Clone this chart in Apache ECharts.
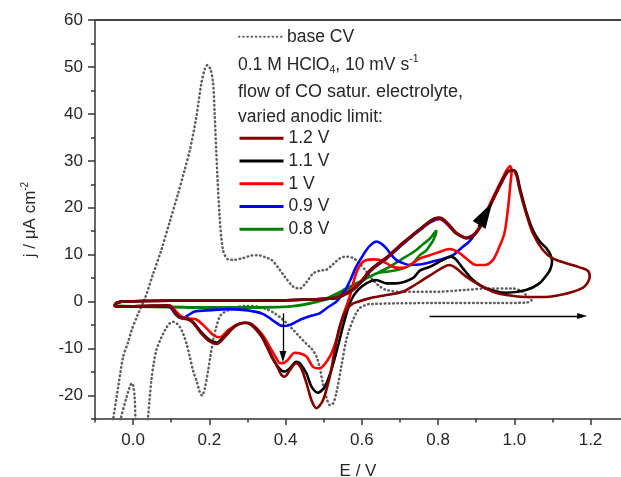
<!DOCTYPE html>
<html>
<head>
<meta charset="utf-8">
<script src="https://cdn.jsdelivr.net/npm/echarts@6/dist/echarts.min.js"></script>
<style>
  html, body { margin: 0; padding: 0; background: #ffffff; }
  #chart { width: 621px; height: 477px; }
</style>
</head>
<body>
<div id="chart"></div>
<script>
// Axis ticks (E in V, j in µA cm^-2)
const xMajorTicks = [0, 0.2, 0.4, 0.6, 0.8, 1.0, 1.2];
const xMinorTicks = [-0.1, 0.1, 0.3, 0.5, 0.7, 0.9, 1.1];
const yMajorTicks = [-20, -10, 0, 10, 20, 30, 40, 50, 60];
const yMinorTicks = [-25, -15, -5, 5, 15, 25, 35, 45, 55];

// Base CV (dotted), anodic sweep then cathodic sweep; points below -25 run off the plot
const baseAnodic = [
  [-0.06, -30], [-0.052, -24.9], [-0.039, -18.1], [-0.026, -11.7], [-0.013, -8.6], [-0.004, -6.1],
  [0.012, -2.8], [0.031, 0.7], [0.052, 5.8], [0.074, 11], [0.096, 17], [0.118, 23], [0.135, 28],
  [0.149, 32.3], [0.166, 39.4], [0.179, 46.5], [0.188, 49.5], [0.195, 50.4], [0.203, 49.5],
  [0.21, 46.5], [0.214, 40], [0.218, 32.3], [0.227, 18.1], [0.236, 11], [0.249, 9.0], [0.265, 8.9],
  [0.284, 9.2], [0.31, 9.8], [0.328, 9.9], [0.345, 9.5], [0.363, 8.9], [0.38, 7.3], [0.398, 5.3],
  [0.42, 3.2], [0.437, 2.8], [0.455, 4.2], [0.472, 6.0], [0.49, 6.6], [0.507, 6.8], [0.525, 8.0],
  [0.542, 9.2], [0.559, 9.6], [0.577, 9.3], [0.594, 8.2], [0.611, 6.5], [0.629, 4.6], [0.646, 3.3],
  [0.664, 2.5], [0.699, 2.1], [0.787, 2.1], [0.874, 2.5], [0.927, 2.8], [0.996, 2.8], [1.02, 2.2],
  [1.031, 1.4], [1.045, 0.3]
];
const baseCathodic = [
  [1.031, -0.2], [0.95, -0.3], [0.8, -0.3], [0.62, -0.5], [0.605, -0.9], [0.594, -1.4], [0.585, -2.5],
  [0.577, -3.9], [0.568, -5.8], [0.559, -8.2], [0.546, -13.9], [0.533, -19.5], [0.524, -21.8],
  [0.516, -22.0], [0.507, -20.3], [0.498, -17.4], [0.489, -13.9], [0.481, -11.7], [0.468, -10.0],
  [0.455, -9.0], [0.437, -7.5], [0.42, -6.0], [0.402, -4.5], [0.385, -3.3], [0.37, -2.4], [0.35, -1.6],
  [0.33, -1.1], [0.297, -0.9], [0.275, -1.1], [0.262, -1.4], [0.245, -2.0], [0.235, -2.5],
  [0.227, -3.2], [0.218, -5.5], [0.21, -8.2], [0.203, -11.5], [0.197, -14.6], [0.188, -18.5],
  [0.181, -20.0], [0.175, -19.3], [0.168, -17.3], [0.157, -14.6], [0.148, -11.5], [0.14, -8.9],
  [0.131, -6.8], [0.122, -5.3], [0.112, -4.5], [0.105, -4.3], [0.095, -4.7], [0.087, -5.6],
  [0.079, -6.8], [0.07, -8.4], [0.061, -10.3], [0.054, -13.2], [0.048, -16.7], [0.043, -21],
  [0.039, -24.9], [0.036, -28],
  [0.008, -28], [0.006, -24.9], [0.004, -20.3], [0.0, -17.8], [-0.004, -17.4], [-0.009, -18.2],
  [-0.017, -20.3], [-0.032, -24.9], [-0.035, -28]
];

// CO saturated electrolyte, anodic limit 1.2 V
const cv12Anodic = [
  [-0.05, -1.0], [-0.045, -0.3], [-0.03, 0.0], [0.0, 0.1], [0.1, 0.2], [0.2, 0.2], [0.3, 0.2],
  [0.4, 0.3], [0.48, 0.5], [0.533, 0.8], [0.555, 1.5], [0.577, 2.5], [0.6, 4.3], [0.62, 6.4],
  [0.642, 7.9], [0.664, 9.2], [0.686, 10.8], [0.708, 12.4], [0.73, 13.9], [0.752, 15.3],
  [0.778, 17.0], [0.795, 17.8], [0.804, 17.9], [0.815, 17.5], [0.83, 16.3], [0.845, 14.9],
  [0.857, 14.2], [0.874, 13.5], [0.892, 14.0], [0.905, 15.2], [0.913, 16.3], [0.927, 18.8],
  [0.944, 21.6], [0.966, 25.2], [0.983, 27.6], [0.996, 28.0], [1.005, 27.0], [1.014, 23.8],
  [1.031, 18.8], [1.049, 14.5], [1.075, 11.0], [1.101, 9.2], [1.136, 8.2], [1.171, 7.3],
  [1.193, 6.6], [1.198, 5.3]
];
const cv12Cathodic = [
  [1.184, 3.2], [1.154, 2.1], [1.119, 1.4], [1.084, 1.0], [1.031, 1.0], [0.979, 1.4], [0.944, 2.1],
  [0.909, 3.5], [0.874, 5.3], [0.848, 7.1], [0.83, 7.8], [0.813, 7.3], [0.787, 6.0], [0.752, 4.2],
  [0.73, 3.1], [0.708, 2.1], [0.664, 1.4], [0.62, 0.7], [0.59, 0.0], [0.577, -0.4], [0.559, -1.8],
  [0.542, -5.3], [0.529, -10.3], [0.516, -16.0], [0.498, -21.0], [0.481, -22.7], [0.468, -21.0],
  [0.455, -17.4], [0.441, -14.2], [0.428, -13.1], [0.411, -14.6], [0.398, -16.0], [0.389, -15.6],
  [0.376, -13.5], [0.363, -11.7], [0.35, -9.5], [0.337, -7.5], [0.31, -5.0], [0.293, -4.5],
  [0.267, -5.3], [0.241, -7.5], [0.219, -9.0], [0.201, -8.5], [0.179, -6.8], [0.157, -4.5],
  [0.144, -3.8], [0.131, -3.6], [0.118, -3.2], [0.105, -1.8], [0.096, -0.9], [0.05, -0.9],
  [0.0, -1.0], [-0.048, -1.1]
];

// anodic limit 1.1 V
const cv11Anodic = [
  [-0.05, -1.0], [-0.045, -0.3], [-0.03, 0.0], [0.0, 0.1], [0.1, 0.2], [0.2, 0.2], [0.3, 0.2],
  [0.4, 0.3], [0.48, 0.5], [0.533, 0.8], [0.555, 1.6], [0.577, 2.6], [0.6, 4.4], [0.62, 6.5],
  [0.642, 8.0], [0.664, 9.3], [0.686, 10.9], [0.708, 12.5], [0.73, 14.0], [0.752, 15.4],
  [0.778, 17.1], [0.795, 17.8], [0.804, 17.8], [0.815, 17.4], [0.83, 16.2], [0.845, 14.8],
  [0.857, 14.1], [0.874, 13.5], [0.892, 14.0], [0.905, 15.2], [0.913, 16.3], [0.927, 18.8],
  [0.944, 21.7], [0.966, 25.4], [0.983, 27.7], [0.998, 28.0], [1.006, 27.3], [1.014, 24.5],
  [1.031, 19.3], [1.049, 15.2], [1.066, 12.9], [1.084, 11.4], [1.095, 10.0], [1.099, 8.5]
];
const cv11Cathodic = [
  [1.095, 7.0], [1.088, 6.0], [1.066, 3.9], [1.031, 2.5], [0.979, 1.9], [0.927, 2.8], [0.892, 4.6],
  [0.865, 7.1], [0.848, 8.9], [0.835, 9.6], [0.813, 8.9], [0.778, 7.4], [0.752, 6.6], [0.734, 5.0],
  [0.69, 3.9], [0.664, 3.9], [0.638, 4.6], [0.612, 3.9], [0.59, 2.5], [0.572, 0.3], [0.555, -3.9],
  [0.537, -9.6], [0.52, -14.6], [0.503, -18.1], [0.485, -19.4], [0.468, -18.1], [0.455, -15.3],
  [0.437, -13.1], [0.428, -12.8], [0.411, -14.2], [0.398, -14.9], [0.38, -13.9], [0.358, -10.7],
  [0.337, -7.2], [0.31, -4.8], [0.293, -4.5], [0.267, -5.2], [0.241, -7.3], [0.219, -8.7],
  [0.201, -8.2], [0.179, -6.5], [0.157, -4.3], [0.144, -3.7], [0.131, -3.5], [0.118, -3.1],
  [0.105, -1.7], [0.096, -0.9], [0.05, -0.9], [0.0, -1.0], [-0.048, -1.1]
];

// anodic limit 1.0 V
const cv10Anodic = [
  [-0.05, -1.0], [-0.045, -0.3], [-0.03, 0.0], [0.0, 0.1], [0.1, 0.2], [0.2, 0.2], [0.3, 0.2],
  [0.4, 0.3], [0.48, 0.5], [0.533, 0.9], [0.555, 1.7], [0.577, 2.8], [0.6, 4.6], [0.62, 6.6],
  [0.642, 8.1], [0.664, 9.4], [0.686, 11.0], [0.708, 12.6], [0.73, 14.0], [0.752, 15.4],
  [0.778, 17.0], [0.795, 17.6], [0.804, 17.6], [0.815, 17.2], [0.83, 16.0], [0.845, 14.7],
  [0.857, 14.1], [0.874, 13.6], [0.892, 14.2], [0.905, 15.5], [0.913, 16.6], [0.927, 19.2],
  [0.944, 22.2], [0.966, 25.8], [0.98, 28.0], [0.989, 28.9]
];
const cv10Cathodic = [
  [0.993, 28.0], [0.99, 25.2], [0.983, 19.5], [0.974, 14.5], [0.961, 11.7], [0.944, 8.9],
  [0.922, 7.8], [0.9, 7.8], [0.874, 9.2], [0.852, 10.6], [0.83, 11.2], [0.804, 10.6], [0.778, 9.9],
  [0.752, 9.2], [0.73, 8.0], [0.708, 7.2], [0.686, 7.3], [0.664, 8.2], [0.645, 8.9], [0.629, 9.0],
  [0.603, 8.5], [0.585, 6.0], [0.568, 1.0], [0.55, -3.2], [0.533, -8.2], [0.516, -11.7],
  [0.489, -14.2], [0.472, -13.9], [0.455, -11.7], [0.437, -11.0], [0.424, -10.9], [0.406, -12.4],
  [0.393, -13.1], [0.385, -13.1], [0.376, -12.1], [0.363, -10.3], [0.337, -6.8], [0.302, -4.5],
  [0.275, -4.8], [0.249, -6.1], [0.227, -7.6], [0.21, -7.1], [0.188, -5.3], [0.166, -3.8],
  [0.149, -3.6], [0.127, -3.2], [0.105, -1.4], [0.095, -0.8], [0.05, -0.9], [0.0, -1.0],
  [-0.048, -1.0]
];

// anodic limit 0.9 V
const cv09Anodic = [
  [-0.05, -1.0], [-0.045, -0.4], [-0.03, 0.0], [0.0, 0.1], [0.1, 0.2], [0.2, 0.2], [0.3, 0.2],
  [0.4, 0.3], [0.48, 0.5], [0.533, 0.8], [0.555, 1.5], [0.577, 2.5], [0.6, 4.3], [0.62, 6.3],
  [0.642, 7.8], [0.664, 9.1], [0.686, 10.7], [0.708, 12.3], [0.73, 13.8], [0.752, 15.2],
  [0.778, 16.8], [0.795, 17.5], [0.804, 17.6], [0.815, 17.2], [0.83, 16.0], [0.845, 14.7],
  [0.857, 14.1], [0.874, 13.6], [0.885, 13.9], [0.893, 14.3]
];
const cv09Cathodic = [
  [0.89, 13.6], [0.878, 12.5], [0.865, 11.7], [0.839, 9.9], [0.804, 8.9], [0.769, 8.2],
  [0.752, 7.9], [0.726, 7.8], [0.708, 8.2], [0.69, 8.9], [0.675, 10.2], [0.664, 11.4], [0.65, 12.4],
  [0.638, 12.8], [0.625, 12.2], [0.612, 11.0], [0.598, 9.2], [0.585, 7.4], [0.572, 5.0],
  [0.559, 2.8], [0.546, 1.2], [0.533, 0.0], [0.511, -1.2], [0.489, -2.5], [0.467, -3.0],
  [0.446, -3.6], [0.425, -4.4], [0.41, -5.0], [0.393, -5.2], [0.372, -4.3], [0.355, -3.3],
  [0.337, -2.5], [0.31, -2.0], [0.293, -1.8], [0.249, -1.6], [0.205, -1.8], [0.162, -2.1],
  [0.144, -2.9], [0.129, -3.6], [0.118, -3.2], [0.109, -2.5], [0.1, -1.4], [0.09, -1.0],
  [0.0, -1.0], [-0.048, -1.0]
];

// anodic limit 0.8 V
const cv08Anodic = [
  [-0.05, -0.8], [-0.04, -0.9], [0.0, -1.0], [0.1, -1.1], [0.2, -1.2], [0.3, -1.2], [0.4, -1.1],
  [0.446, -0.7], [0.48, -0.1], [0.507, 0.5], [0.53, 1.3], [0.55, 2.1], [0.572, 3.0], [0.594, 4.0],
  [0.616, 5.1], [0.638, 6.0], [0.655, 6.7], [0.673, 7.4], [0.69, 8.3], [0.708, 9.2], [0.726, 10.1],
  [0.743, 11.0], [0.76, 12.2], [0.778, 13.4], [0.79, 14.6], [0.796, 15.2]
];
const cv08Cathodic = [
  [0.794, 14.4], [0.787, 13.0], [0.778, 11.9], [0.769, 10.9], [0.752, 9.9], [0.734, 8.2],
  [0.712, 7.2], [0.69, 6.7], [0.667, 6.4], [0.647, 6.2], [0.625, 5.5], [0.603, 4.6], [0.581, 3.7],
  [0.559, 2.8], [0.537, 1.8], [0.516, 1.0], [0.494, 0.3], [0.472, -0.2], [0.44, -0.7],
  [0.402, -1.1], [0.3, -1.3], [0.2, -1.3], [0.1, -1.2], [0.0, -1.1], [-0.048, -1.0]
];

// Annotation arrows: [start, end] in (E, j)
const arrowDown = [[0.393, -2.5], [0.393, -11.7]];
const arrowSweep = [[0.778, -3.07], [1.178, -3.07]];
const arrowScan = [[0.905, 16.0], [0.925, 18.75]];

const seriesNames = ['1.2 V', '1.1 V', '1 V', '0.9 V', '0.8 V'];
const seriesColors = ['#800000', '#000000', '#ff0000', '#0000ff', '#008000'];
const seriesPaths = [
  cv12Anodic.concat(cv12Cathodic),
  cv11Anodic.concat(cv11Cathodic),
  cv10Anodic.concat(cv10Cathodic),
  cv09Anodic.concat(cv09Cathodic),
  cv08Anodic.concat(cv08Cathodic)
];

const FONT = '"Liberation Sans", Arial, sans-serif';
const TEXT = '#262626';
const AXIS = '#333333';

const chart = echarts.init(document.getElementById('chart'), null, { renderer: 'canvas' });

function arrowItem(seg, size) {
  return [
    { coord: seg[0], symbol: 'none' },
    { coord: seg[1], symbol: 'triangle', symbolSize: size }
  ];
}

// Draw order: 0.8 V ... 1.2 V so the 1.2 V trace sits on top
const order = [4, 3, 2, 1, 0];
const coSeries = order.map(i => ({
  name: seriesNames[i],
  type: 'line',
  data: seriesPaths[i],
  showSymbol: false,
  symbol: 'none',
  smooth: 0.3,
  lineStyle: { color: seriesColors[i], width: 2.6 },
  itemStyle: { color: seriesColors[i] },
  z: 3
}));

const legendText = { fontFamily: FONT, fontSize: 17.5, color: TEXT, lineHeight: 20 };

const option = {
  animation: false,
  backgroundColor: '#ffffff',
  // fixed plot rectangle; the frame runs past the right edge of the canvas
  grid: { left: 95, right: 0, top: 20, bottom: 58, containLabel: false, outerBoundsMode: 'none' },
  xAxis: [
    {
      type: 'value', min: -0.1, max: 1.28, position: 'bottom',
      name: 'E / V', nameLocation: 'middle', nameGap: 44,
      nameTextStyle: { fontFamily: FONT, fontSize: 17, color: TEXT },
      axisLine: { show: true, onZero: false, lineStyle: { color: AXIS, width: 1.5 } },
      axisTick: { show: true, inside: false, length: 6, customValues: xMajorTicks, lineStyle: { color: AXIS, width: 1.5 } },
      axisLabel: { show: true, margin: 13, customValues: xMajorTicks, fontFamily: FONT, fontSize: 17, color: TEXT,
        formatter: v => v.toFixed(1) },
      splitLine: { show: false }
    },
    {
      type: 'value', min: -0.1, max: 1.28, position: 'bottom',
      axisLine: { show: false, onZero: false },
      axisTick: { show: true, inside: false, length: 3.5, customValues: xMinorTicks, lineStyle: { color: AXIS, width: 1.5 } },
      axisLabel: { show: false },
      splitLine: { show: false }
    },
    {
      type: 'value', min: -0.1, max: 1.28, position: 'top',
      axisLine: { show: true, onZero: false, lineStyle: { color: '#444', width: 2 } },
      axisTick: { show: false }, axisLabel: { show: false }, splitLine: { show: false }
    }
  ],
  yAxis: [
    {
      type: 'value', min: -25, max: 60, position: 'left',
      name: 'j / μA cm{sup|-2}', nameLocation: 'middle', nameGap: 55, nameRotate: 90,
      nameTextStyle: {
        fontFamily: FONT, fontSize: 17, color: TEXT, lineHeight: 20,
        rich: { sup: { fontFamily: FONT, fontSize: 10, color: TEXT, lineHeight: 10, verticalAlign: 'top' } }
      },
      axisLine: { show: true, onZero: false, lineStyle: { color: AXIS, width: 1.5 } },
      axisTick: { show: true, inside: false, length: 7, customValues: yMajorTicks, lineStyle: { color: AXIS, width: 1.5 } },
      axisLabel: { show: true, margin: 12, customValues: yMajorTicks, fontFamily: FONT, fontSize: 17, color: TEXT },
      splitLine: { show: false }
    },
    {
      type: 'value', min: -25, max: 60, position: 'left',
      axisLine: { show: false, onZero: false },
      axisTick: { show: true, inside: false, length: 4, customValues: yMinorTicks, lineStyle: { color: AXIS, width: 1.5 } },
      axisLabel: { show: false },
      splitLine: { show: false }
    }
  ],
  legend: [
    {
      data: ['base CV'], orient: 'vertical', left: 238, top: 26.7, padding: 0,
      itemWidth: 43, itemHeight: 14, selectedMode: false,
      itemStyle: { opacity: 0 },
      textStyle: legendText
    },
    {
      data: seriesNames, orient: 'vertical', left: 238, top: 128.3, padding: 0,
      itemWidth: 44, itemHeight: 14, itemGap: 2.75, selectedMode: false,
      itemStyle: { opacity: 0 },
      lineStyle: { width: 3 },
      textStyle: legendText
    }
  ],
  graphic: [
    {
      type: 'text', x: 238, y: 65, silent: true,
      style: {
        text: '{a|0.1 M HClO}{sub|4}{a|, 10 mV s}{sup|-1}',
        verticalAlign: 'middle', align: 'left',
        rich: {
          a: { fontFamily: FONT, fontSize: 17.5, fill: TEXT, lineHeight: 22, verticalAlign: 'middle' },
          sub: { fontFamily: FONT, fontSize: 10.5, fill: TEXT, lineHeight: 10, verticalAlign: 'bottom' },
          sup: { fontFamily: FONT, fontSize: 10.5, fill: TEXT, lineHeight: 10, verticalAlign: 'top' }
        }
      }
    },
    {
      type: 'text', x: 238, y: 91.7, silent: true,
      style: { text: 'flow of CO satur. electrolyte,', font: '18px ' + FONT, fill: TEXT, verticalAlign: 'middle' }
    },
    {
      type: 'text', x: 238, y: 116.7, silent: true,
      style: { text: 'varied anodic limit:', font: '17.5px ' + FONT, fill: TEXT, verticalAlign: 'middle' }
    }
  ],
  series: [
    {
      name: 'base CV',
      type: 'line',
      data: baseAnodic.concat(baseCathodic),
      showSymbol: false,
      symbol: 'none',
      smooth: 0.3,
      lineStyle: { color: '#5c5c5c', width: 2.5, type: [0.5, 3.7], cap: 'round' },
      itemStyle: { color: '#5c5c5c' },
      z: 2,
      markLine: {
        silent: true,
        animation: false,
        label: { show: false },
        lineStyle: { color: '#000', width: 1.3, type: 'solid' },
        data: [
          arrowItem(arrowDown, [7, 11]),
          arrowItem(arrowSweep, [6, 10]),
          arrowItem(arrowScan, [15, 26])
        ]
      }
    }
  ].concat(coSeries)
};

chart.setOption(option);
</script>
</body>
</html>
